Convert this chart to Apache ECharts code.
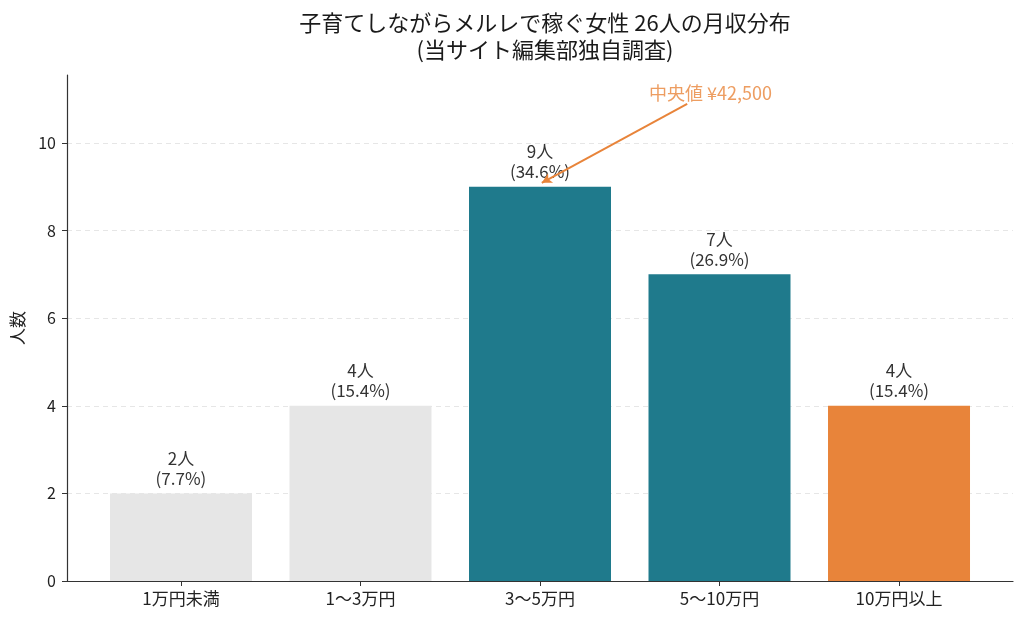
<!DOCTYPE html>
<html>
<head>
<meta charset="utf-8">
<script src="https://cdn.jsdelivr.net/npm/echarts@6/dist/echarts.min.js"></script>
<style>
  html, body { margin: 0; padding: 0; background: #fff; }
  #chart { width: 1024px; height: 621px; }
</style>
</head>
<body>
<div id="chart"></div>
<script>
const categories = ['1万円未満', '1〜3万円', '3〜5万円', '5〜10万円', '10万円以上']
const counts = [2, 4, 9, 7, 4]
const percents = ['7.7%', '15.4%', '34.6%', '26.9%', '15.4%']
const barColors = ['#e6e6e6', '#e6e6e6', '#1f7a8c', '#1f7a8c', '#e8843a']
const yTicks = [0, 2, 4, 6, 8, 10]
const medianText = '中央値 ¥42,500'

const font = '"Noto Sans CJK JP", "Noto Sans", sans-serif'
const chart = echarts.init(document.getElementById('chart'))

const idx = categories.map((c, i) => i)

const option = {
  animation: false,
  textStyle: { fontFamily: font },
  title: {
    text: '子育てしながらメルレで稼ぐ女性 26人の月収分布\n(当サイト編集部独自調査)',
    left: 540,
    textAlign: 'center',
    top: 4,
    textStyle: { fontSize: 22, fontWeight: 'normal', color: '#1a1a1a', lineHeight: 27, fontFamily: font }
  },
  grid: { left: 67, right: 11, top: 75, bottom: 40, outerBoundsMode: 'none', containLabel: false },
  xAxis: {
    type: 'value',
    min: -0.635,
    max: 4.635,
    axisLine: { show: true, onZero: false, lineStyle: { color: '#333', width: 1.2 } },
    axisTick: { show: true, customValues: idx, length: 5, lineStyle: { color: '#333' } },
    axisLabel: {
      customValues: idx,
      formatter: v => categories[Math.round(v)],
      fontSize: 17, color: '#222', margin: 9
    },
    splitLine: { show: false }
  },
  yAxis: {
    type: 'value',
    min: 0,
    max: 11.55,
    interval: 2,
    name: '人数',
    nameLocation: 'middle',
    nameGap: 41,
    nameRotate: 90,
    nameTextStyle: { fontSize: 17, color: '#222' },
    axisLine: { show: true, onZero: false, lineStyle: { color: '#333', width: 1.2 } },
    axisTick: { show: true, customValues: yTicks, length: 5, lineStyle: { color: '#333' } },
    axisLabel: { customValues: yTicks, fontSize: 16, color: '#222', margin: 11 },
    splitLine: { show: true, lineStyle: { type: [5, 4], color: '#e6e6e6', width: 1 } }
  },
  series: [
    {
      type: 'bar',
      barWidth: 142,
      data: counts.map((v, i) => ({
        value: [i, v],
        itemStyle: { color: barColors[i] },
        label: {
          show: true,
          position: 'top',
          distance: 5,
          formatter: v + '人\n(' + percents[i] + ')',
          fontSize: 17,
          lineHeight: 20,
          color: '#333'
        }
      })),
      z: 2
    },
    {
      type: 'line',
      data: [],
      markLine: {
        silent: true,
        symbol: ['none', 'arrow'],
        symbolSize: [8, 10],
        label: { show: false },
        lineStyle: { type: 'solid', color: '#e8843a', width: 2 },
        data: [[{ coord: [2.82, 10.89] }, { coord: [2.01, 9.09] }]]
      },
      z: 5
    },
    {
      type: 'scatter',
      symbolSize: 0,
      data: [[2.95, 11.14]],
      label: {
        show: true,
        position: 'inside',
        formatter: medianText,
        fontSize: 18,
        color: '#e8843a'
      },
      z: 6
    }
  ]
}

chart.setOption(option)
</script>
</body>
</html>
